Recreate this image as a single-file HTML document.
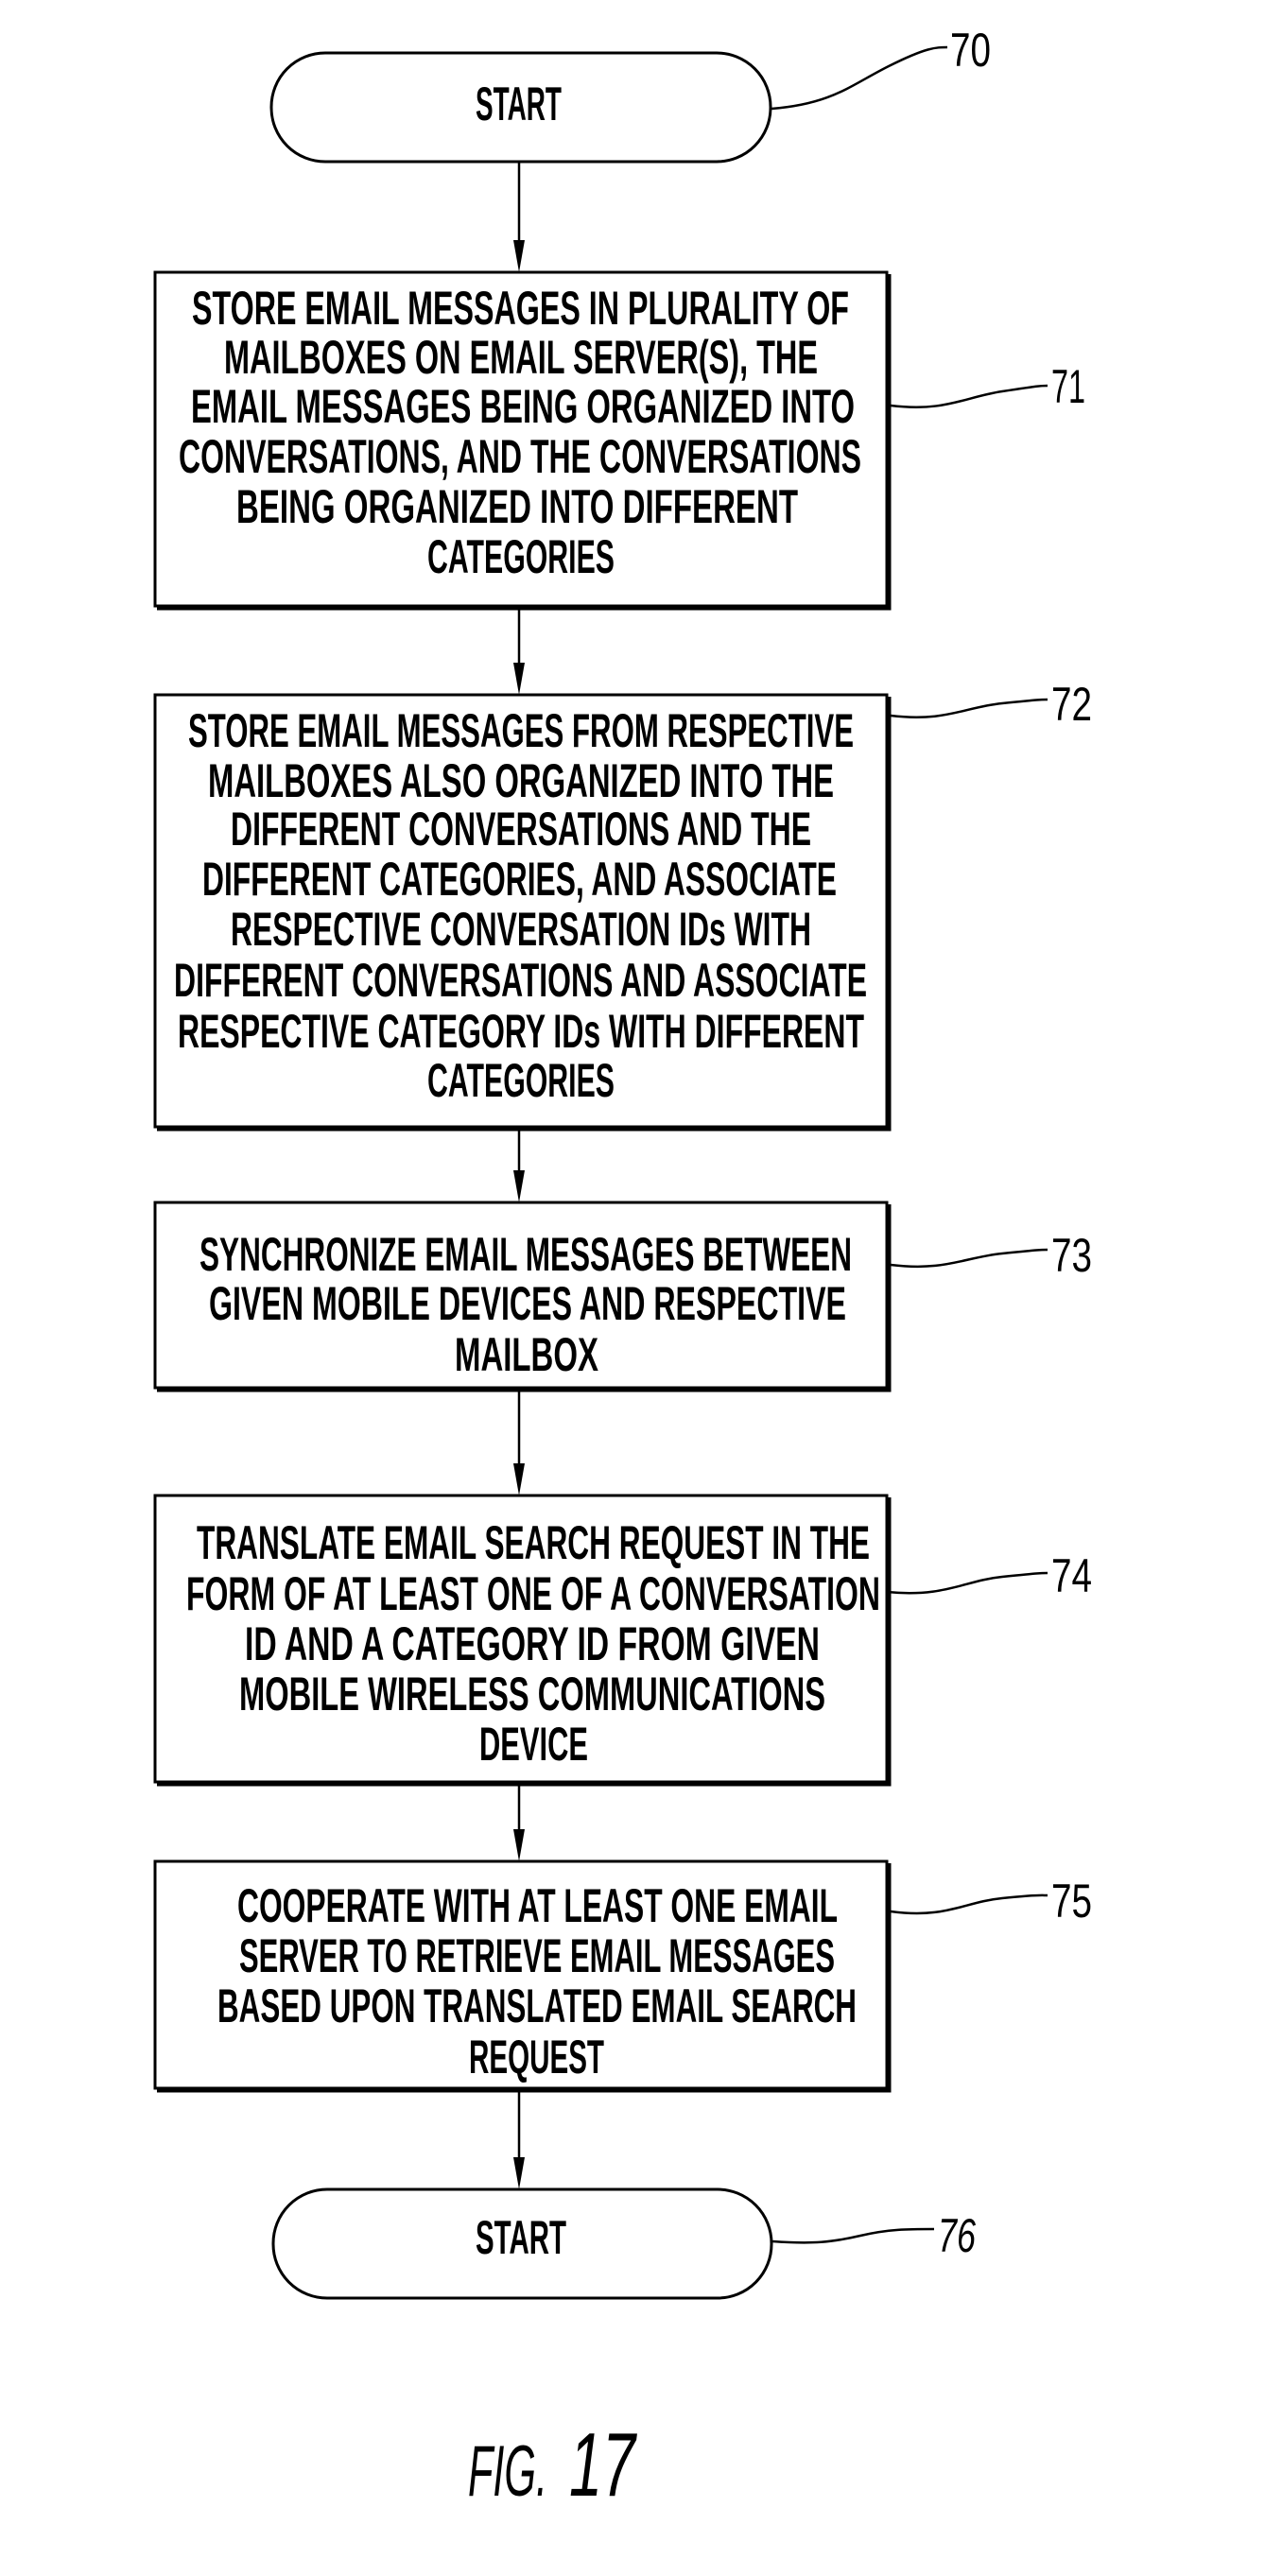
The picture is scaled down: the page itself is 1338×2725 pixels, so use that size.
<!DOCTYPE html>
<html><head><meta charset="utf-8"><style>
html,body{margin:0;padding:0;background:#fff;}
svg{display:block;}
text{font-family:"Liberation Sans Narrow","Liberation Sans",sans-serif;font-weight:bold;fill:#000;}
.n{font-weight:normal;}
</style></head><body>
<svg width="1338" height="2725" viewBox="0 0 1338 2725" xmlns="http://www.w3.org/2000/svg">
<g fill="none" stroke="#000" stroke-width="3">
<rect x="287" y="56" width="528" height="115" rx="57" ry="57"/>
<rect x="164" y="288" width="774" height="353"/>
<rect x="164" y="735" width="774" height="457"/>
<rect x="164" y="1272" width="774" height="196"/>
<rect x="164" y="1582" width="774" height="303"/>
<rect x="164" y="1969" width="774" height="240"/>
<rect x="289" y="2316" width="527" height="115" rx="57" ry="57"/>
</g>
<g stroke="#000" stroke-width="5" fill="none">
<path d="M940,290 V643 H166"/><path d="M940,737 V1194 H166"/><path d="M940,1274 V1470 H166"/><path d="M940,1584 V1887 H166"/><path d="M940,1971 V2211 H166"/>
</g>
<g stroke="#000" stroke-width="2.5" fill="none">
<line x1="549" y1="171" x2="549" y2="260"/>
<line x1="549" y1="643" x2="549" y2="705"/>
<line x1="549" y1="1194" x2="549" y2="1242"/>
<line x1="549" y1="1470" x2="549" y2="1552"/>
<line x1="549" y1="1887" x2="549" y2="1939"/>
<line x1="549" y1="2211" x2="549" y2="2286"/>
<path d="M816,115 C880,110 900,90 940,70 S990,50 1002,50"/>
<path d="M942,429 C1000,436 1020,420 1060,414 S1100,408 1108,408"/>
<path d="M942,757 C1000,764 1020,748 1060,744 S1100,740 1108,740"/>
<path d="M942,1338 C1000,1345 1020,1330 1060,1326 S1100,1322 1108,1322"/>
<path d="M938,1684 C1000,1690 1020,1672 1060,1668 S1100,1664 1108,1664"/>
<path d="M942,2022 C1000,2030 1020,2012 1060,2008 S1100,2005 1108,2005"/>
<path d="M817,2371 C860,2374 880,2372 910,2365 S960,2358 988,2358"/>
</g>
<g fill="#000">
<polygon points="543,254 555,254 549,288"/>
<polygon points="543,701 555,701 549,735"/>
<polygon points="543,1238 555,1238 549,1272"/>
<polygon points="543,1548 555,1548 549,1582"/>
<polygon points="543,1935 555,1935 549,1969"/>
<polygon points="543,2282 555,2282 549,2316"/>
</g>
<g font-size="50">
<text class="n" x="1005" y="70" textLength="43" lengthAdjust="spacingAndGlyphs">70</text>
<text class="n" x="1112" y="426" textLength="36" lengthAdjust="spacingAndGlyphs">71</text>
<text class="n" x="1112" y="762" textLength="43" lengthAdjust="spacingAndGlyphs">72</text>
<text class="n" x="1112" y="1345" textLength="43" lengthAdjust="spacingAndGlyphs">73</text>
<text class="n" x="1112" y="1684" textLength="43" lengthAdjust="spacingAndGlyphs">74</text>
<text class="n" x="1112" y="2028" textLength="43" lengthAdjust="spacingAndGlyphs">75</text>
<text class="n" x="992" y="2382" textLength="40" lengthAdjust="spacingAndGlyphs" font-style="italic">76</text>
</g>
<g font-size="50">
<text x="503" y="127" textLength="91" lengthAdjust="spacingAndGlyphs">START</text>
<text x="203" y="343" textLength="695" lengthAdjust="spacingAndGlyphs">STORE EMAIL MESSAGES IN PLURALITY OF</text>
<text x="237" y="395" textLength="628" lengthAdjust="spacingAndGlyphs">MAILBOXES ON EMAIL SERVER(S), THE</text>
<text x="202" y="447" textLength="702" lengthAdjust="spacingAndGlyphs">EMAIL MESSAGES BEING ORGANIZED INTO</text>
<text x="189" y="500" textLength="722" lengthAdjust="spacingAndGlyphs">CONVERSATIONS, AND THE CONVERSATIONS</text>
<text x="250" y="553" textLength="594" lengthAdjust="spacingAndGlyphs">BEING ORGANIZED INTO DIFFERENT</text>
<text x="452" y="606" textLength="198" lengthAdjust="spacingAndGlyphs">CATEGORIES</text>

<text x="199" y="790" textLength="704" lengthAdjust="spacingAndGlyphs">STORE EMAIL MESSAGES FROM RESPECTIVE</text>
<text x="220" y="843" textLength="662" lengthAdjust="spacingAndGlyphs">MAILBOXES ALSO ORGANIZED INTO THE</text>
<text x="244" y="894" textLength="614" lengthAdjust="spacingAndGlyphs">DIFFERENT CONVERSATIONS AND THE</text>
<text x="214" y="947" textLength="671" lengthAdjust="spacingAndGlyphs">DIFFERENT CATEGORIES, AND ASSOCIATE</text>
<text x="244" y="1000" textLength="614" lengthAdjust="spacingAndGlyphs">RESPECTIVE CONVERSATION IDs WITH</text>
<text x="184" y="1054" textLength="733" lengthAdjust="spacingAndGlyphs">DIFFERENT CONVERSATIONS AND ASSOCIATE</text>
<text x="188" y="1108" textLength="726" lengthAdjust="spacingAndGlyphs">RESPECTIVE CATEGORY IDs WITH DIFFERENT</text>
<text x="452" y="1160" textLength="198" lengthAdjust="spacingAndGlyphs">CATEGORIES</text>

<text x="211" y="1344" textLength="690" lengthAdjust="spacingAndGlyphs">SYNCHRONIZE EMAIL MESSAGES BETWEEN</text>
<text x="221" y="1396" textLength="674" lengthAdjust="spacingAndGlyphs">GIVEN MOBILE DEVICES AND RESPECTIVE</text>
<text x="481" y="1450" textLength="152" lengthAdjust="spacingAndGlyphs">MAILBOX</text>

<text x="208" y="1649" textLength="712" lengthAdjust="spacingAndGlyphs">TRANSLATE EMAIL SEARCH REQUEST IN THE</text>
<text x="197" y="1703" textLength="734" lengthAdjust="spacingAndGlyphs">FORM OF AT LEAST ONE OF A CONVERSATION</text>
<text x="259" y="1756" textLength="608" lengthAdjust="spacingAndGlyphs">ID AND A CATEGORY ID FROM GIVEN</text>
<text x="253" y="1809" textLength="620" lengthAdjust="spacingAndGlyphs">MOBILE WIRELESS COMMUNICATIONS</text>
<text x="507" y="1862" textLength="115" lengthAdjust="spacingAndGlyphs">DEVICE</text>

<text x="251" y="2033" textLength="635" lengthAdjust="spacingAndGlyphs">COOPERATE WITH AT LEAST ONE EMAIL</text>
<text x="253" y="2086" textLength="630" lengthAdjust="spacingAndGlyphs">SERVER TO RETRIEVE EMAIL MESSAGES</text>
<text x="230" y="2139" textLength="676" lengthAdjust="spacingAndGlyphs">BASED UPON TRANSLATED EMAIL SEARCH</text>
<text x="496" y="2193" textLength="143" lengthAdjust="spacingAndGlyphs">REQUEST</text>

<text x="503" y="2384" textLength="96" lengthAdjust="spacingAndGlyphs">START</text>
</g>
<text class="n" x="495" y="2640" font-size="76" font-style="italic" textLength="84" lengthAdjust="spacingAndGlyphs">FIG.</text>
<text class="n" x="602" y="2640" font-size="96" font-style="italic" textLength="70" lengthAdjust="spacingAndGlyphs">17</text>
</svg>
</body></html>
